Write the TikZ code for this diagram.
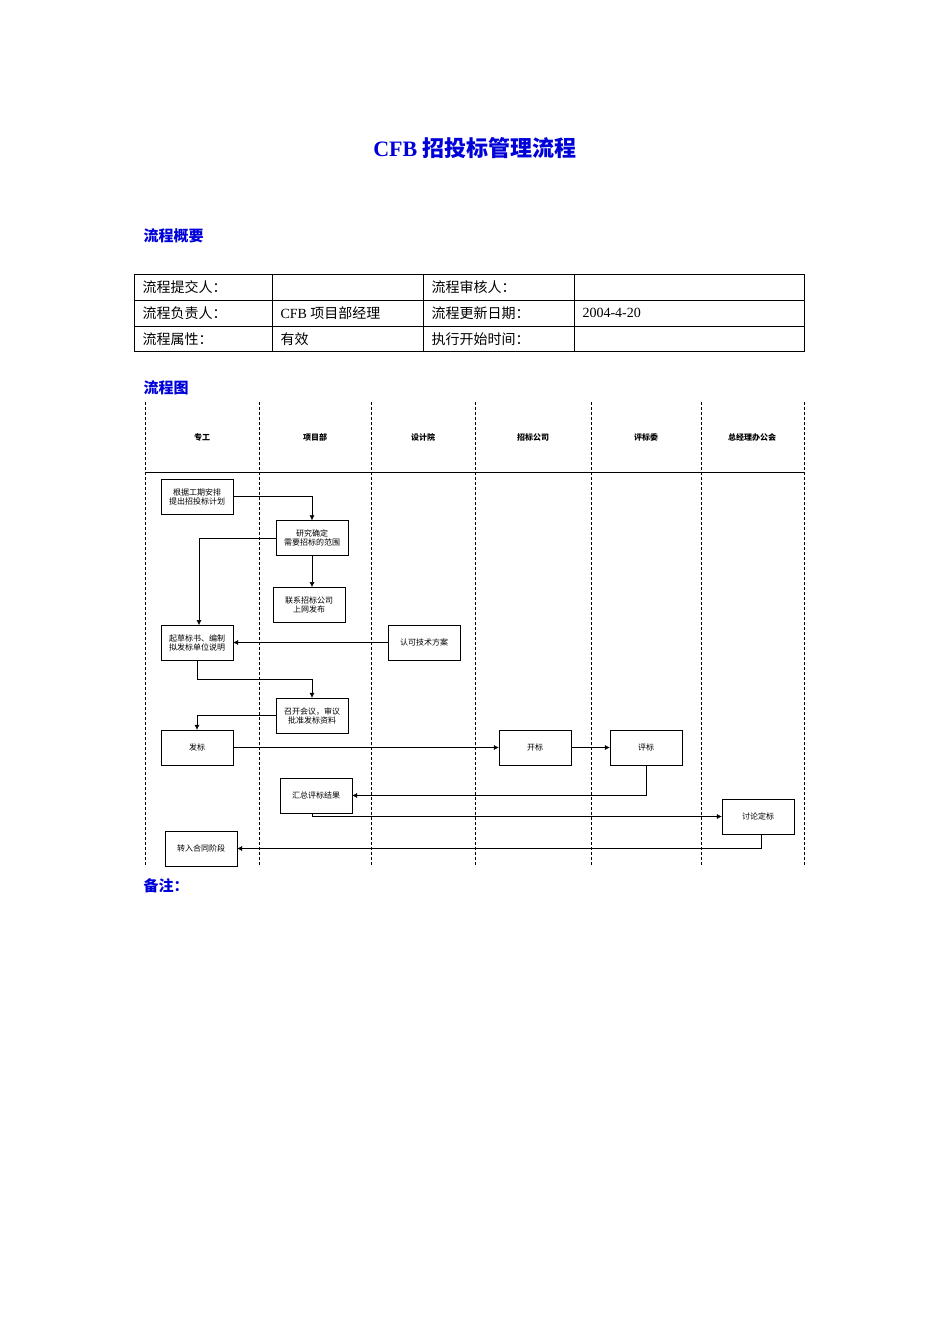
\documentclass[tikz,border=0pt]{standalone}
\usepackage{fontspec}
\setmainfont{Liberation Serif}
\newfontfamily\cjk{Noto Sans CJK SC}
\usetikzlibrary{arrows.meta}
\begin{document}
\begin{tikzpicture}[x=1pt,y=-1pt,
  box/.style={draw, minimum width=72pt, minimum height=35pt, inner sep=1pt, align=center, font=\cjk\fontsize{8}{9}\selectfont},
  lane/.style={densely dashed, line width=0.4pt},
  head/.style={font=\cjk\bfseries\fontsize{8}{9}\selectfont},
  flow/.style={-{Latex[length=5pt,width=5pt]}, line width=0.5pt},
  cell/.style={anchor=west, font=\cjk\fontsize{14}{16}\selectfont},
  blue heading/.style={anchor=west, text=blue!85!black, font=\cjk\bfseries\fontsize{15}{17}\selectfont}]
\useasboundingbox (0,0) rectangle (950,1344);

% title and headings
\node[text=blue!85!black, font=\bfseries\fontsize{22}{26}\selectfont] (title) at (475,148) {CFB {\cjk 招投标管理流程}};
\node[blue heading] (sum) at (140,236) {流程概要};
\node[blue heading] (chart) at (140,388) {流程图};
\node[blue heading] (note) at (140,886) {备注：};

% table
\draw (134,274) rectangle (804,351);
\draw (134,300) -- (804,300);
\draw (134,326) -- (804,326);
\foreach \x in {272,423,574} \draw (\x,274) -- (\x,351);
\node[cell] (c11) at (139,287) {流程提交人：};
\node[cell] (c13) at (428,287) {流程审核人：};
\node[cell] (c21) at (139,313) {流程负责人：};
\node[cell] (c22) at (277,313) {\rmfamily CFB \cjk 项目部经理};
\node[cell] (c23) at (428,313) {流程更新日期：};
\node[cell, font=\fontsize{14}{16}\selectfont] (c24) at (579,313) {2004-4-20};
\node[cell] (c31) at (139,339) {流程属性：};
\node[cell] (c32) at (277,339) {有效};
\node[cell] (c33) at (428,339) {执行开始时间：};

% lanes
\foreach \x in {145,259,371,475,591,701,804} \draw[lane] (\x,402) -- (\x,865);
\draw (145,472) -- (804,472);
\node[head] (h1) at (202,437) {专工};
\node[head] (h2) at (315,437) {项目部};
\node[head] (h3) at (423,437) {设计院};
\node[head] (h4) at (533,437) {招标公司};
\node[head] (h5) at (646,437) {评标委};
\node[head] (h6) at (752,437) {总经理办公会};

% steps
\node[box] (plan) at (197,496.5) {根据工期安排\\提出招投标计划};
\node[box] (scope) at (312,538) {研究确定\\需要招标的范围};
\node[box] (publish) at (309,604.5) {联系招标公司\\上网发布};
\node[box] (draft) at (197,642.5) {起草标书、编制\\拟发标单位说明};
\node[box] (tech) at (424,642.5) {认可技术方案};
\node[box] (meet) at (312,715.5) {召开会议，审议\\批准发标资料};
\node[box] (issue) at (197,747.5) {发标};
\node[box] (open) at (535,747.5) {开标};
\node[box] (eval) at (646,747.5) {评标};
\node[box] (sumup) at (316,795.5) {汇总评标结果};
\node[box] (decide) at (758,816.5) {讨论定标};
\node[box] (contract) at (201,848.5) {转入合同阶段};

% connectors
\draw[flow] (plan.east) -| (scope.north);
\draw[flow] (scope.west) -| (199,625);
\draw[flow] (scope.south) -- (312,587);
\draw[flow] (tech.west) -- (draft.east);
\draw[flow] (draft.south) |- (312,679) -- (meet.north);
\draw[flow] (meet.west) -| (issue.north);
\draw[flow] (issue.east) -- (open.west);
\draw[flow] (open.east) -- (eval.west);
\draw[flow] (eval.south) |- (sumup.east);
\draw[flow] (312,813) |- (decide.west);
\draw[flow] (761,834) |- (contract.east);
\end{tikzpicture}
\end{document}
